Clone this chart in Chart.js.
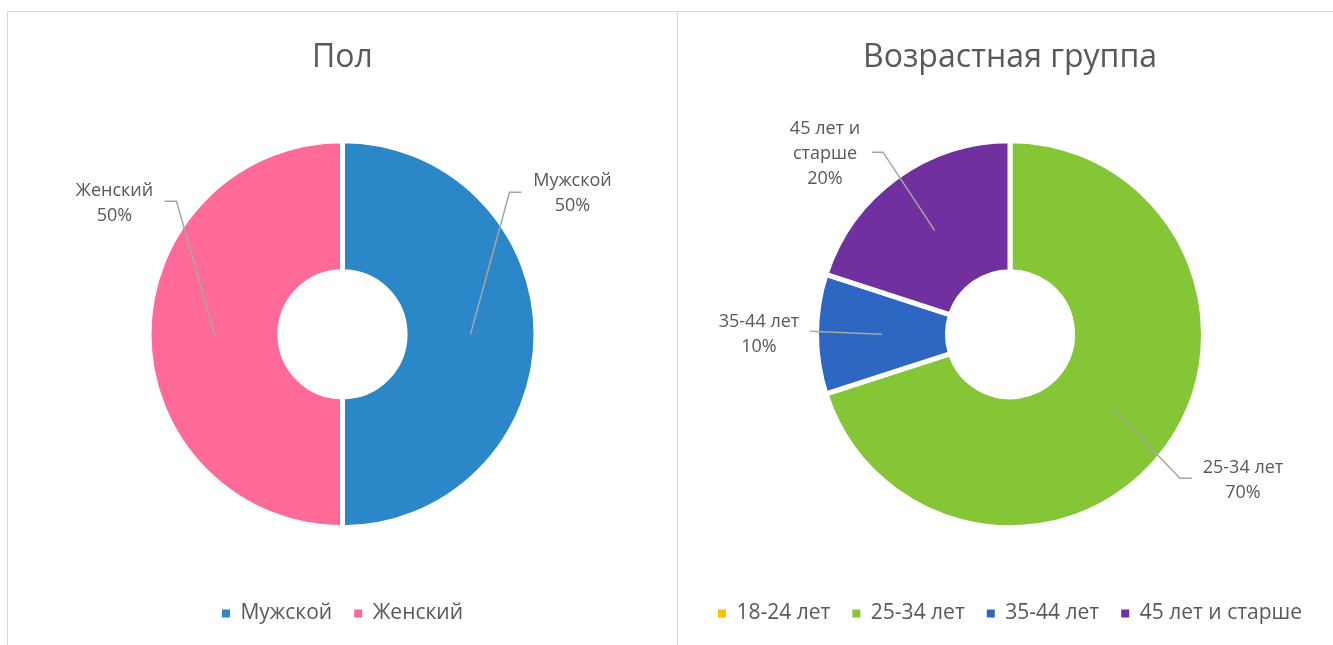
<!DOCTYPE html>
<html>
<head>
<meta charset="utf-8">
<script src="https://cdn.jsdelivr.net/npm/chart.js@4.4.1/dist/chart.umd.min.js"></script>
<style>
  html, body { margin: 0; padding: 0; background: #fff; overflow: hidden; }
  #frame { position: absolute; left: 7px; top: 11px; width: 1340px; height: 645px; border: 1px solid #d9d9d9; }
  #left { position: absolute; left: 0; top: 0; width: 669px; height: 645px; border-right: 1px solid #d9d9d9; }
  #right { position: absolute; left: 670px; top: 0; width: 664px; height: 645px; }
  canvas { position: absolute; left: 0; top: 0; }
</style>
</head>
<body>
<div id="frame">
  <div id="left"><canvas id="chart-sex" width="669" height="633"></canvas></div>
  <div id="right"><canvas id="chart-age" width="664" height="633"></canvas></div>
</div>
<script>
// ---- data ----
const sexLabels = ["Мужской", "Женский"];
const sexShares = [50, 50];
const sexColors = ["#2b87c7", "#ff6a99"];

const ageLabels = ["18-24 лет", "25-34 лет", "35-44 лет", "45 лет и старше"];
const ageShares = [0, 70, 10, 20];
const ageColors = ["#ffc000", "#85c637", "#2e67c2", "#7030a0"];

const FONT = "'Open Sans', 'DejaVu Sans', sans-serif";
const GREY = "#595959";

// wrap a label into lines no wider than maxWidth
function wrapText(ctx, text, maxWidth) {
    const words = text.split(" ");
    const lines = [];
    let cur = "";
    words.forEach(w => {
        const test = cur ? cur + " " + w : w;
        if (cur && ctx.measureText(test).width > maxWidth) {
            lines.push(cur);
            cur = w;
        } else {
            cur = test;
        }
    });
    if (cur) lines.push(cur);
    return lines;
}

// data labels with leader lines (excel style)
const leaderLabels = {
    id: "leaderLabels",
    afterDatasetsDraw(chart, args, opts) {
        const ctx = chart.ctx;
        const meta = chart.getDatasetMeta(0);
        const values = chart.data.datasets[0].data;
        const total = values.reduce((a, b) => a + b, 0);
        ctx.save();
        ctx.font = opts.fontSize + "px " + FONT;
        meta.data.forEach((arc, i) => {
            const spot = opts.spots[i];
            if (!spot || values[i] === 0) return;
            const p = arc.getProps(["x", "y", "startAngle", "endAngle", "innerRadius", "outerRadius"]);
            const mid = (p.startAngle + p.endAngle) / 2;
            const r = (p.innerRadius + p.outerRadius) / 2;
            const ax = p.x + Math.cos(mid) * r;
            const ay = p.y + Math.sin(mid) * r;
            ctx.strokeStyle = "#a6a6a6";
            ctx.lineWidth = 1.5;
            ctx.beginPath();
            ctx.moveTo(ax, ay);
            ctx.lineTo(p.x + spot.elbow[0], p.y + spot.elbow[1]);
            ctx.lineTo(p.x + spot.end[0], p.y + spot.end[1]);
            ctx.stroke();

            const lines = wrapText(ctx, chart.data.labels[i], opts.maxWidth);
            lines.push(Math.round(values[i] / total * 100) + "%");
            const lh = opts.lineHeight;
            const cx = p.x + spot.text[0];
            let cy = p.y + spot.text[1] - (lines.length - 1) * lh / 2;
            ctx.fillStyle = GREY;
            ctx.textAlign = "center";
            ctx.textBaseline = "middle";
            lines.forEach(line => {
                ctx.fillText(line, cx, cy);
                cy += lh;
            });
        });
        ctx.restore();
    }
};

function makeChart(id, title, labels, values, colors, spots) {
    return new Chart(document.getElementById(id), {
        type: "doughnut",
        data: {
            labels: labels,
            datasets: [{
                data: values,
                backgroundColor: colors,
                borderColor: "#ffffff",
                borderWidth: 5,
                hoverOffset: 0
            }]
        },
        options: {
            responsive: false,
            animation: false,
            radius: 193.5,
            cutout: 79,
            layout: { padding: { top: 0, bottom: 11 } },
            plugins: {
                title: {
                    display: true,
                    text: title,
                    color: GREY,
                    font: { family: FONT, size: 32, weight: "normal" },
                    padding: { top: 27, bottom: 10 }
                },
                legend: {
                    position: "bottom",
                    labels: {
                        boxWidth: 8,
                        boxHeight: 8,
                        color: GREY,
                        padding: 22,
                        font: { family: FONT, size: 21 },
                        generateLabels(chart) {
                            const items = Chart.overrides.doughnut.plugins.legend.labels.generateLabels(chart);
                            items.forEach(it => { it.lineWidth = 0; it.strokeStyle = it.fillStyle; });
                            return items;
                        }
                    }
                },
                tooltip: { enabled: false },
                leaderLabels: {
                    spots: spots,
                    fontSize: 18,
                    lineHeight: 25,
                    maxWidth: 95
                }
            }
        },
        plugins: [leaderLabels]
    });
}

makeChart("chart-sex", "Пол", sexLabels, sexShares, sexColors, [
    { text: [230, -141], end: [179, -142], elbow: [167, -142] },
    { text: [-228, -131], end: [-178, -133], elbow: [-166, -133] }
]);

makeChart("chart-age", "Возрастная группа", ageLabels, ageShares, ageColors, [
    null,
    { text: [233, 146], end: [182, 144], elbow: [170, 144] },
    { text: [-251, 0], end: [-200, -3], elbow: [-200, -3] },
    { text: [-185, -180], end: [-138, -182], elbow: [-127, -182] }
]);
</script>
</body>
</html>
